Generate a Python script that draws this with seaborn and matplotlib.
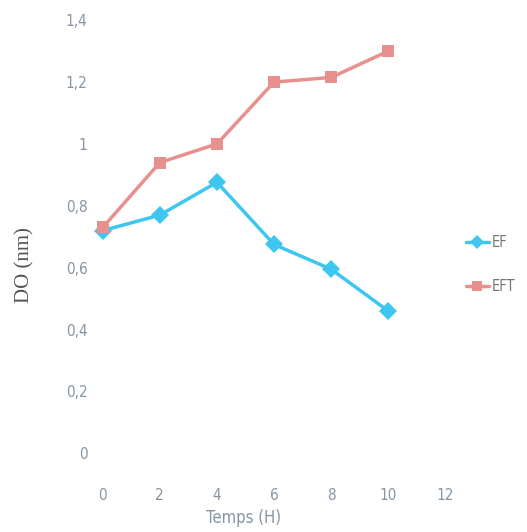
import pandas as pd
import matplotlib
matplotlib.use("Agg")
import matplotlib.pyplot as plt
import seaborn as sns

temps = [0, 2, 4, 6, 8, 10]
ef = [0.72, 0.77, 0.876, 0.675, 0.595, 0.46]
eft = [0.73, 0.94, 1.0, 1.20, 1.215, 1.30]
yticks = [0, 0.2, 0.4, 0.6, 0.8, 1.0, 1.2, 1.4]
ytick_labels = ["0", "0,2", "0,4", "0,6", "0,8", "1", "1,2", "1,4"]
xticks = [0, 2, 4, 6, 8, 10, 12]

df = pd.DataFrame({
    "temps": temps * 2,
    "do": ef + eft,
    "serie": ["EF"] * len(temps) + ["EFT"] * len(temps),
})

sns.set_style("white")
tick_col = "#8795a3"
tick_font = dict(family="DejaVu Sans", stretch="condensed", fontsize=11, color=tick_col)

fig = plt.figure(figsize=(5.27, 5.32), dpi=100)
ax = fig.add_axes([0.195, 0.148, 0.65, 0.814])

sns.lineplot(data=df, x="temps", y="do", hue="serie", style="serie",
             palette={"EF": "#3cc6f0", "EFT": "#e8908d"},
             markers={"EF": "D", "EFT": "s"}, dashes=False,
             markersize=9, linewidth=2.5, markeredgewidth=0,
             ax=ax, clip_on=False)

ax.set_xlim(0, 12)
ax.set_ylim(0, 1.4)
ax.set_xticks(xticks)
ax.set_xticklabels([str(t) for t in xticks], **tick_font)
ax.set_yticks(yticks)
ax.set_yticklabels(ytick_labels, **tick_font)
ax.tick_params(axis="y", pad=11, length=0)
ax.tick_params(axis="x", pad=25, length=0)
for s in ax.spines.values():
    s.set_visible(False)

ax.set_xlabel("Temps (H)", family="DejaVu Sans", stretch="condensed", fontsize=12, color=tick_col)
ax.xaxis.set_label_coords(0.41, -0.128)
ax.set_ylabel("DO (nm)", family=["Liberation Serif"], fontsize=15, color="#555555")
ax.yaxis.set_label_coords(-0.20, 0.434)

handles, labels = ax.get_legend_handles_labels()
for h in handles:
    h.set_markersize(7)
ax.legend(handles, labels, loc="center left", bbox_to_anchor=(1.03, 0.435),
          frameon=False, handlelength=1.6, handletextpad=0.2, labelspacing=2.0,
          borderaxespad=0.3,
          prop={"family": "DejaVu Sans", "stretch": "condensed", "size": 10.5},
          labelcolor="#777777")

fig.savefig("out.png", dpi=100)
